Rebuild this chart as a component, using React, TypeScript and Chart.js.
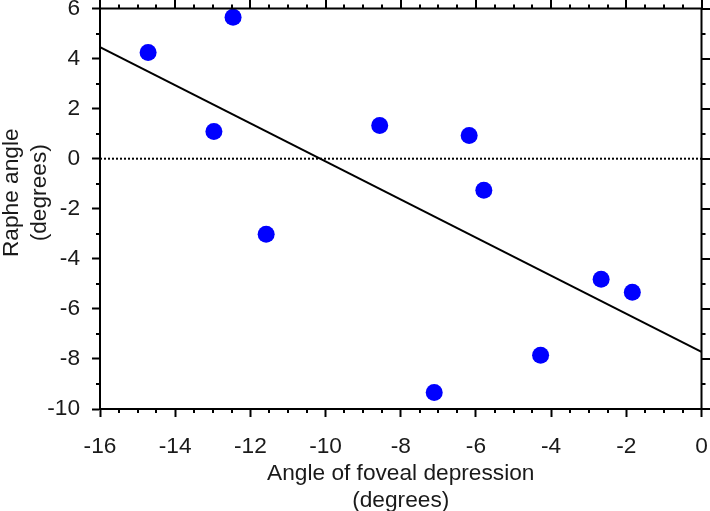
import React, { useEffect, useRef } from "react";
import { Chart, registerables } from "chart.js";

Chart.register(...registerables);

const foveal = [-14.72, -12.46, -12.97, -11.58, -8.56, -6.18, -5.79, -7.11, -4.28, -2.67, -1.84];
const raphe = [4.24, 5.65, 1.09, -3.02, 1.33, 0.93, -1.26, -9.34, -7.85, -4.82, -5.34];
const fitX = [-16, 0];
const fitY = [4.46, -7.72];
const zeroX = [-16, 0];
const zeroY = [0, 0];
const xTitle = ["Angle of foveal depression", "(degrees)"];
const yTitle = ["Raphe angle", "(degrees)"];

const FONT = "'Liberation Sans', Arial, sans-serif";
const FS = 22.7;

const boxPlugin = {
  id: "boxTicks",
  afterDraw(chart: any) {
    const ctx = chart.ctx;
    const { left, right, top, bottom } = chart.chartArea;
    const xs = chart.scales.x;
    const ys = chart.scales.y;
    ctx.save();
    ctx.strokeStyle = "#000";
    ctx.lineWidth = 2;
    ctx.beginPath();
    ctx.moveTo(left - 1, top);
    ctx.lineTo(right, top);
    ctx.lineTo(right, bottom + 1);
    ctx.stroke();
    ctx.beginPath();
    for (let i = 0; i <= 32; i++) {
      const v = -16 + i * 0.5;
      const px = Math.round(xs.getPixelForValue(v));
      const major = i % 4 === 0;
      if (!major) {
        ctx.moveTo(px, bottom);
        ctx.lineTo(px, bottom + 4);
        ctx.moveTo(px, top);
        ctx.lineTo(px, top - 4);
      } else {
        ctx.moveTo(px, top);
        ctx.lineTo(px, top - 9);
      }
    }
    for (let i = 0; i <= 16; i++) {
      const v = -10 + i;
      const py = Math.round(ys.getPixelForValue(v));
      const major = i % 2 === 0;
      if (!major) {
        ctx.moveTo(left, py);
        ctx.lineTo(left - 4, py);
        ctx.moveTo(right, py);
        ctx.lineTo(right + 4, py);
      } else {
        ctx.moveTo(right, py);
        ctx.lineTo(right + 9, py);
      }
    }
    ctx.stroke();

    // y-axis title (drawn slightly above the plot centre as in the reference)
    const cy = (top + bottom) / 2 - 16;
    ctx.fillStyle = "#1a1a1a";
    ctx.font = `${FS}px ${FONT}`;
    ctx.textAlign = "center";
    ctx.textBaseline = "middle";
    const lh = 28;
    yTitle.forEach((t, i) => {
      ctx.save();
      ctx.translate(12 + i * lh, cy);
      ctx.rotate(-Math.PI / 2);
      ctx.fillText(t, 0, 0);
      ctx.restore();
    });
    ctx.restore();
  },
};

export default function App() {
  const ref = useRef<HTMLCanvasElement>(null);
  useEffect(() => {
    if (!ref.current) return;
    const chart = new Chart(ref.current, {
      type: "scatter",
      data: {
        datasets: [
          {
            type: "line",
            data: zeroX.map((x, i) => ({ x, y: zeroY[i] })),
            borderColor: "#000",
            borderWidth: 2,
            borderDash: [2, 2],
            pointRadius: 0,
            fill: false,
          } as any,
          {
            type: "line",
            data: fitX.map((x, i) => ({ x, y: fitY[i] })),
            borderColor: "#000",
            borderWidth: 2,
            pointRadius: 0,
            fill: false,
          } as any,
          {
            type: "scatter",
            data: foveal.map((x, i) => ({ x, y: raphe[i] })),
            backgroundColor: "#0000ff",
            borderWidth: 0,
            pointRadius: 8.5,
          },
        ],
      },
      options: {
        animation: false,
        responsive: false,
        events: [],
        layout: { padding: { top: 8, right: 8, left: 0, bottom: 0 } },
        plugins: { legend: { display: false }, tooltip: { enabled: false } },
        scales: {
          x: {
            type: "linear",
            min: -16,
            max: 0,
            afterFit(s: any) {
              s.height = 102;
              s.paddingLeft = 0;
              s.paddingRight = 0;
            },
            ticks: {
              stepSize: 2,
              color: "#1a1a1a",
              font: { family: FONT, size: FS, lineHeight: 1.2 },
              padding: 16,
              maxRotation: 0,
            },
            grid: {
              display: true,
              drawOnChartArea: false,
              drawTicks: true,
              tickLength: 8,
              tickWidth: 2,
              color: "#000",
            },
            border: { display: true, color: "#000", width: 2 },
            title: {
              display: true,
              text: xTitle,
              color: "#1a1a1a",
              font: { family: FONT, size: FS, lineHeight: 1.18 },
              padding: { top: 0, bottom: -3 },
            },
          },
          y: {
            type: "linear",
            min: -10,
            max: 6,
            afterFit(s: any) {
              s.width = 100;
              s.paddingTop = 0;
              s.paddingBottom = 0;
            },
            ticks: {
              stepSize: 2,
              color: "#1a1a1a",
              font: { family: FONT, size: FS },
              padding: 12,
            },
            grid: {
              display: true,
              drawOnChartArea: false,
              drawTicks: true,
              tickLength: 8,
              tickWidth: 2,
              color: "#000",
            },
            border: { display: true, color: "#000", width: 2 },
            title: { display: false },
          },
        },
      },
      plugins: [boxPlugin],
    });
    return () => chart.destroy();
  }, []);
  return (
    <div style={{ position: "fixed", left: 0, top: 0, width: 710, height: 511, background: "#fff" }}>
      <canvas ref={ref} width={710} height={511} style={{ display: "block" }} />
    </div>
  );
}
